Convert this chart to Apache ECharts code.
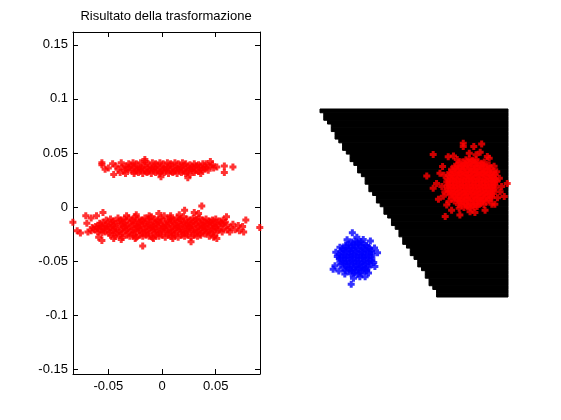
<!DOCTYPE html>
<html><head><meta charset="utf-8">
<script src="https://cdn.jsdelivr.net/npm/echarts@6/dist/echarts.min.js"></script>
<style>html,body{margin:0;padding:0;background:#fff}#c{width:561px;height:420px}</style>
</head><body><div id="c"></div>
<script>
const titleText = 'Risultato della trasformazione';
const xTicks = [-0.05, 0, 0.05];
const yTicks = [-0.15, -0.1, -0.05, 0, 0.05, 0.1, 0.15];

// lower band of transformed points (left panel)
const lowerBand = [
[-0.052,-0.012],[-0.048,-0.011],[-0.045,-0.013],[-0.041,-0.010],[-0.038,-0.012],[-0.035,-0.011],[-0.031,-0.010],[-0.028,-0.012],[-0.025,-0.009],[-0.022,-0.011],[-0.019,-0.012],[-0.016,-0.010],[-0.013,-0.011],[-0.010,-0.009],[-0.007,-0.011],[-0.004,-0.012],[-0.001,-0.010],[0.002,-0.008],[0.005,-0.011],[0.008,-0.010],[0.011,-0.012],[0.014,-0.010],[0.017,-0.011],[0.020,-0.009],[0.023,-0.011],[0.026,-0.012],[0.029,-0.010],[0.032,-0.011],[0.035,-0.010],[0.038,-0.012],[0.041,-0.011],[0.044,-0.013],[0.047,-0.012],[0.050,-0.011],[0.054,-0.013],[0.057,-0.012],
[-0.058,-0.015],[-0.055,-0.014],[-0.051,-0.015],[-0.047,-0.014],[-0.044,-0.015],[-0.040,-0.013],[-0.037,-0.015],[-0.034,-0.014],[-0.030,-0.015],[-0.027,-0.013],[-0.024,-0.015],[-0.021,-0.014],[-0.018,-0.013],[-0.015,-0.015],[-0.012,-0.014],[-0.009,-0.013],[-0.006,-0.015],[-0.003,-0.014],[0.000,-0.013],[0.003,-0.015],[0.006,-0.014],[0.009,-0.013],[0.012,-0.015],[0.015,-0.014],[0.018,-0.013],[0.021,-0.015],[0.024,-0.014],[0.027,-0.015],[0.030,-0.013],[0.033,-0.014],[0.036,-0.015],[0.039,-0.014],[0.042,-0.015],[0.045,-0.014],[0.048,-0.015],[0.051,-0.014],[0.055,-0.015],[0.059,-0.014],
[-0.062,-0.018],[-0.059,-0.017],[-0.056,-0.018],[-0.053,-0.017],[-0.050,-0.018],[-0.046,-0.017],[-0.043,-0.018],[-0.039,-0.016],[-0.036,-0.018],[-0.033,-0.017],[-0.029,-0.018],[-0.026,-0.016],[-0.023,-0.018],[-0.020,-0.017],[-0.017,-0.016],[-0.014,-0.018],[-0.011,-0.017],[-0.008,-0.018],[-0.005,-0.016],[-0.002,-0.017],[0.001,-0.018],[0.004,-0.017],[0.007,-0.016],[0.010,-0.018],[0.013,-0.017],[0.016,-0.018],[0.019,-0.016],[0.022,-0.017],[0.025,-0.018],[0.028,-0.017],[0.031,-0.016],[0.034,-0.018],[0.037,-0.017],[0.040,-0.018],[0.043,-0.016],[0.046,-0.017],[0.049,-0.018],[0.052,-0.017],[0.056,-0.016],[0.060,-0.017],
[-0.063,-0.021],[-0.060,-0.020],[-0.057,-0.021],[-0.054,-0.020],[-0.051,-0.021],[-0.048,-0.019],[-0.045,-0.021],[-0.042,-0.020],[-0.038,-0.021],[-0.035,-0.019],[-0.032,-0.020],[-0.028,-0.021],[-0.025,-0.020],[-0.022,-0.019],[-0.019,-0.021],[-0.016,-0.020],[-0.013,-0.021],[-0.010,-0.019],[-0.007,-0.020],[-0.004,-0.021],[-0.001,-0.020],[0.002,-0.019],[0.005,-0.021],[0.008,-0.020],[0.011,-0.021],[0.014,-0.019],[0.017,-0.020],[0.020,-0.021],[0.023,-0.020],[0.026,-0.019],[0.029,-0.021],[0.032,-0.020],[0.035,-0.021],[0.038,-0.019],[0.041,-0.020],[0.044,-0.021],[0.047,-0.020],[0.050,-0.019],[0.053,-0.021],[0.057,-0.020],[0.061,-0.021],
[-0.060,-0.023],[-0.056,-0.024],[-0.053,-0.023],[-0.049,-0.024],[-0.046,-0.022],[-0.043,-0.024],[-0.040,-0.023],[-0.037,-0.024],[-0.034,-0.022],[-0.031,-0.023],[-0.027,-0.024],[-0.024,-0.023],[-0.021,-0.022],[-0.018,-0.024],[-0.015,-0.023],[-0.012,-0.024],[-0.009,-0.022],[-0.006,-0.023],[-0.003,-0.024],[0.000,-0.023],[0.003,-0.022],[0.006,-0.024],[0.009,-0.023],[0.012,-0.024],[0.015,-0.022],[0.018,-0.023],[0.021,-0.024],[0.024,-0.023],[0.027,-0.022],[0.030,-0.024],[0.033,-0.023],[0.036,-0.024],[0.039,-0.022],[0.042,-0.023],[0.045,-0.024],[0.048,-0.023],[0.052,-0.022],[0.056,-0.023],
[-0.048,-0.026],[-0.044,-0.027],[-0.040,-0.026],[-0.037,-0.028],[-0.033,-0.026],[-0.030,-0.027],[-0.027,-0.026],[-0.024,-0.028],[-0.021,-0.026],[-0.018,-0.027],[-0.015,-0.026],[-0.012,-0.027],[-0.009,-0.028],[-0.006,-0.026],[-0.003,-0.027],[0.000,-0.026],[0.003,-0.028],[0.006,-0.026],[0.009,-0.027],[0.012,-0.026],[0.015,-0.028],[0.018,-0.026],[0.021,-0.027],[0.024,-0.026],[0.027,-0.028],[0.030,-0.026],[0.033,-0.027],[0.036,-0.026],[0.040,-0.025],[0.044,-0.027],[0.049,-0.026],
[-0.083,-0.014],[-0.079,-0.022],[-0.076,-0.024],[-0.071,-0.008],[-0.070,-0.015],[-0.069,-0.023],[-0.066,-0.010],[-0.061,-0.008],[-0.059,-0.028],[-0.056,-0.031],[-0.055,-0.005],[-0.065,-0.019],[-0.066,-0.022],[-0.045,-0.029],[-0.038,-0.030],[-0.025,-0.029],[-0.018,-0.036],[-0.033,-0.008],[-0.024,-0.007],[-0.012,-0.008],[-0.003,-0.006],[0.008,-0.008],[0.021,-0.003],[0.037,0.001],[0.027,-0.032],[0.030,-0.005],[0.034,-0.006],[0.016,-0.007],[0.010,-0.029],[-0.008,-0.029],[0.051,-0.029],[0.048,-0.028],[0.060,-0.009],[0.063,-0.023],[0.066,-0.016],[0.071,-0.017],[0.075,-0.018],[0.078,-0.012],[0.076,-0.023],[0.091,-0.019],[0.064,-0.019],[0.068,-0.021],[0.072,-0.022]
];

// upper band of transformed points (left panel)
const upperBand = [
[-0.031,0.040],[-0.027,0.041],[-0.024,0.040],[-0.020,0.041],[-0.016,0.042],[-0.013,0.040],[-0.009,0.041],[-0.006,0.040],[-0.002,0.041],[0.001,0.040],[0.005,0.041],[0.008,0.040],[0.012,0.041],[0.015,0.040],[0.019,0.041],[0.022,0.040],[0.026,0.039],[0.030,0.040],[0.034,0.039],[0.038,0.040],
[-0.037,0.037],[-0.034,0.038],[-0.031,0.037],[-0.028,0.038],[-0.025,0.037],[-0.022,0.036],[-0.019,0.037],[-0.016,0.038],[-0.013,0.037],[-0.010,0.036],[-0.007,0.037],[-0.004,0.038],[-0.001,0.037],[0.002,0.036],[0.005,0.037],[0.008,0.038],[0.011,0.037],[0.014,0.036],[0.017,0.037],[0.020,0.038],[0.023,0.037],[0.026,0.036],[0.029,0.037],[0.032,0.038],[0.035,0.037],[0.038,0.036],[0.041,0.037],[0.044,0.038],
[-0.035,0.034],[-0.032,0.035],[-0.029,0.034],[-0.026,0.033],[-0.023,0.034],[-0.020,0.035],[-0.017,0.034],[-0.014,0.033],[-0.011,0.034],[-0.008,0.035],[-0.005,0.034],[-0.002,0.033],[0.001,0.034],[0.004,0.035],[0.007,0.034],[0.010,0.033],[0.013,0.034],[0.016,0.035],[0.019,0.034],[0.022,0.033],[0.025,0.034],[0.028,0.035],[0.031,0.034],[0.034,0.033],[0.037,0.034],[0.040,0.035],[0.043,0.034],
[-0.026,0.031],[-0.022,0.032],[-0.018,0.031],[-0.014,0.032],[-0.010,0.031],[-0.006,0.032],[-0.002,0.031],[0.002,0.032],[0.006,0.031],[0.010,0.032],[0.014,0.031],[0.018,0.032],[0.022,0.031],[0.026,0.030],[0.030,0.032],
[-0.056,0.041],[-0.056,0.039],[-0.053,0.035],[-0.050,0.036],[-0.046,0.040],[-0.045,0.030],[-0.043,0.038],[-0.038,0.041],[-0.041,0.035],[-0.016,0.044],[-0.001,0.028],[0.024,0.027],[0.045,0.042],[0.048,0.036],[0.058,0.038],[0.058,0.032],[0.066,0.037],[0.047,0.039],[0.051,0.037],[-0.039,0.032],[-0.034,0.031],[0.036,0.031],[0.041,0.040]
];

// right panel, image cell coordinates (0..50, rows counted downward)
const redCluster = [
[38.8,13.5],[39.7,13.3],[40.6,13.6],[41.5,13.4],
[36.9,14.3],[37.8,14.1],[38.6,14.4],[39.5,14.2],[40.3,14.0],[41.2,14.3],[42.0,14.2],[42.9,14.4],[43.7,14.1],
[35.8,15.2],[36.6,15.0],[37.5,15.3],[38.3,15.1],[39.2,14.9],[40.0,15.2],[40.9,15.0],[41.7,15.3],[42.6,15.1],[43.4,14.9],[44.3,15.2],[45.0,15.0],
[35.0,16.0],[35.9,15.8],[36.7,16.1],[37.6,15.9],[38.4,15.7],[39.3,16.0],[40.1,15.9],[41.0,16.1],[41.8,15.8],[42.7,16.0],[43.5,15.9],[44.4,16.1],[45.3,15.8],
[34.5,16.9],[35.3,16.7],[36.2,16.8],[37.0,17.0],[37.9,16.7],[38.7,16.9],[39.6,16.8],[40.4,16.6],[41.3,16.9],[42.1,16.8],[43.0,17.0],[43.8,16.7],[44.7,16.9],[45.5,16.8],[46.2,16.6],
[34.1,17.7],[35.0,17.5],[35.8,17.8],[36.7,17.6],[37.5,17.4],[38.4,17.7],[39.2,17.6],[40.1,17.8],[40.9,17.5],[41.8,17.7],[42.6,17.6],[43.5,17.4],[44.3,17.7],[45.2,17.6],[46.0,17.8],[46.6,17.5],
[33.8,18.6],[34.7,18.4],[35.5,18.5],[36.4,18.7],[37.2,18.4],[38.1,18.6],[38.9,18.5],[39.8,18.3],[40.6,18.6],[41.5,18.5],[42.3,18.7],[43.2,18.4],[44.0,18.6],[44.9,18.5],[45.7,18.3],[46.6,18.6],
[33.7,19.4],[34.5,19.2],[35.4,19.3],[36.2,19.5],[37.1,19.2],[37.9,19.4],[38.8,19.3],[39.6,19.1],[40.5,19.4],[41.3,19.3],[42.2,19.5],[43.0,19.2],[43.9,19.4],[44.7,19.3],[45.6,19.1],[46.4,19.4],[47.0,19.2],
[33.8,20.3],[34.6,20.1],[35.5,20.2],[36.3,20.4],[37.2,20.1],[38.0,20.3],[38.9,20.2],[39.7,20.0],[40.6,20.3],[41.4,20.2],[42.3,20.4],[43.1,20.1],[44.0,20.3],[44.8,20.2],[45.7,20.0],[46.5,20.3],
[33.9,21.1],[34.8,20.9],[35.6,21.0],[36.5,21.2],[37.3,20.9],[38.2,21.1],[39.0,21.0],[39.9,20.8],[40.7,21.1],[41.6,21.0],[42.4,21.2],[43.3,20.9],[44.1,21.1],[45.0,21.0],[45.8,20.8],[46.6,21.1],
[34.1,22.0],[35.0,21.8],[35.8,21.9],[36.7,22.1],[37.5,21.8],[38.4,22.0],[39.2,21.9],[40.1,21.7],[40.9,22.0],[41.8,21.9],[42.6,22.1],[43.5,21.8],[44.3,22.0],[45.2,21.9],[46.1,21.7],
[34.5,22.8],[35.3,22.6],[36.2,22.7],[37.0,22.9],[37.9,22.6],[38.7,22.8],[39.6,22.7],[40.4,22.5],[41.3,22.8],[42.1,22.7],[43.0,22.9],[43.8,22.6],[44.7,22.8],[45.6,22.7],[46.1,22.5],
[35.0,23.7],[35.8,23.5],[36.7,23.6],[37.5,23.8],[38.4,23.5],[39.2,23.7],[40.1,23.6],[40.9,23.4],[41.8,23.7],[42.6,23.6],[43.5,23.8],[44.3,23.5],[45.2,23.7],[45.7,23.5],
[35.7,24.5],[36.5,24.3],[37.4,24.4],[38.2,24.6],[39.1,24.3],[39.9,24.5],[40.8,24.4],[41.6,24.2],[42.5,24.5],[43.3,24.4],[44.2,24.6],[45.0,24.3],
[36.8,25.4],[37.6,25.2],[38.5,25.3],[39.3,25.5],[40.2,25.2],[41.0,25.4],[41.9,25.3],[42.7,25.1],[43.6,25.4],
[38.3,26.2],[39.2,26.0],[40.0,26.3],[40.9,26.1],[41.8,25.9],
[38.1,9.1],[38.1,10.0],[40.9,10.0],[43.0,9.3],[30.1,12.1],[28.4,17.8],[30.1,21.1],[31.5,24.0],[33.3,28.6],[37.2,28.2],[49.8,19.8],[49.0,23.3],[45.0,13.1],[35.5,12.5],[34.1,12.7],[45.7,25.3],[46.5,25.3],[43.9,26.9],[39.9,27.3],[35.0,26.9],[31.9,17.1],[31.0,19.8],[33.2,22.0],[47.7,18.4],[47.0,16.7],[46.3,15.2],[41.5,12.2],[39.7,11.8],[33.7,25.5],[37.0,26.4],[47.9,22.0],[32.6,15.3],[33.0,17.6],[32.4,20.6],[36.5,13.4],[44.5,12.6],[42.6,11.5],[47.2,23.6],[41.2,27.5],[34.3,24.6],[48.3,20.6],[32.8,23.2]
];

const blueCluster = [
[8.4,35.4],[9.3,35.2],[10.2,35.4],[10.9,35.3],
[6.8,36.2],[7.6,36.0],[8.5,36.2],[9.3,36.1],[10.2,35.9],[11.0,36.2],[11.9,36.1],[12.4,36.3],
[6.0,37.1],[6.8,36.9],[7.7,37.1],[8.5,37.0],[9.4,36.8],[10.2,37.1],[11.1,37.0],[11.9,37.2],[12.8,36.9],[13.2,37.1],
[5.5,37.9],[6.3,37.7],[7.2,37.9],[8.0,37.8],[8.9,37.6],[9.7,37.9],[10.6,37.8],[11.4,38.0],[12.3,37.7],[13.1,37.9],[13.7,37.8],
[5.3,38.8],[6.2,38.6],[7.0,38.8],[7.9,38.7],[8.7,38.5],[9.6,38.8],[10.4,38.7],[11.3,38.9],[12.1,38.6],[13.0,38.8],[13.9,38.7],
[5.2,39.6],[6.1,39.4],[6.9,39.6],[7.8,39.5],[8.6,39.3],[9.5,39.6],[10.3,39.5],[11.2,39.7],[12.0,39.4],[12.9,39.6],[13.8,39.5],
[5.3,40.5],[6.2,40.3],[7.0,40.5],[7.9,40.4],[8.7,40.2],[9.6,40.5],[10.4,40.4],[11.3,40.6],[12.1,40.3],[13.0,40.5],[13.8,40.4],
[5.5,41.3],[6.4,41.1],[7.2,41.3],[8.1,41.2],[8.9,41.0],[9.8,41.3],[10.6,41.2],[11.5,41.4],[12.3,41.1],[13.2,41.3],
[6.1,42.2],[7.0,42.0],[7.8,42.2],[8.7,42.1],[9.5,41.9],[10.4,42.2],[11.2,42.1],[12.1,42.3],[13.0,42.0],
[6.8,43.0],[7.7,42.8],[8.5,43.0],[9.4,42.9],[10.2,42.7],[11.1,43.0],[11.9,42.9],[12.4,43.1],
[8.3,43.8],[9.2,43.6],[10.1,43.8],[10.9,43.7],
[8.6,32.9],[9.8,34.1],[11.5,34.7],[13.4,35.1],[15.3,38.2],[3.5,42.6],[4.0,41.7],[4.6,39.2],[5.3,36.8],[8.3,46.6],[8.9,45.0],[12.0,44.6],[12.9,43.6],[14.3,40.8],[6.6,43.9],[14.5,37.0],[5.0,43.1],[10.6,44.6],[7.2,34.8],[14.6,41.9],[4.2,38.1]
];

// first black column of each image row (50 x 50 image, black up to column 50)
const regionStart = [0,1,1,2,3,3,4,4,5,6, 6,7,8,8,9,10,10,11,12,12, 13,13,14,15,15,16,17,17,18,19, 19,20,21,21,22,22,23,24,24,25, 26,26,27,28,28,29,29,30,31,31];
const imageSize = 50;

const font = '"Liberation Sans", Arial, Helvetica, sans-serif';
const plus = 'path://M2,0H5V2H7V5H5V7H2V5H0V2H2Z';
const black = '#000';
const markSize = 7;

function boxX(position, showLabel) {
  return {
    gridIndex: 0, type: 'value', position: position,
    min: -0.0829, max: 0.0912,
    axisLine: { show: true, onZero: false, lineStyle: { color: black, width: 1 } },
    axisTick: { show: true, inside: true, length: 5, customValues: xTicks, lineStyle: { color: black } },
    axisLabel: { show: showLabel, customValues: xTicks, margin: 6, color: black, fontFamily: font, fontSize: 13 },
    splitLine: { show: false }
  };
}
function boxY(position, showLabel) {
  return {
    gridIndex: 0, type: 'value', position: position,
    min: -0.1543, max: 0.1618,
    axisLine: { show: true, onZero: false, lineStyle: { color: black, width: 1 } },
    axisTick: { show: true, inside: true, length: 5, customValues: yTicks, lineStyle: { color: black } },
    axisLabel: { show: showLabel, customValues: yTicks, margin: 5, color: black, fontFamily: font, fontSize: 13 },
    splitLine: { show: false }
  };
}

const chart = echarts.init(document.getElementById('c'), null, { renderer: 'canvas' });
chart.setOption({
  animation: false,
  backgroundColor: '#fff',
  title: {
    text: titleText, left: 166, top: 10, textAlign: 'center', padding: 0,
    textStyle: { fontFamily: font, fontSize: 13, fontWeight: 'normal', color: black }
  },
  grid: [
    { left: 73, top: 32, width: 187, height: 342 },
    { left: 320, top: 109, width: 188, height: 188 }
  ],
  xAxis: [
    boxX('bottom', true),
    boxX('top', false),
    { gridIndex: 1, type: 'value', min: 0, max: imageSize, show: false }
  ],
  yAxis: [
    boxY('left', true),
    boxY('right', false),
    { gridIndex: 1, type: 'value', min: 0, max: imageSize, inverse: true, show: false }
  ],
  series: [
    {
      type: 'scatter', xAxisIndex: 0, yAxisIndex: 0, data: lowerBand,
      symbol: plus, symbolSize: markSize, itemStyle: { color: '#ff0000' }, clip: false, silent: true
    },
    {
      type: 'scatter', xAxisIndex: 0, yAxisIndex: 0, data: upperBand,
      symbol: plus, symbolSize: markSize, itemStyle: { color: '#ff0000' }, clip: false, silent: true
    },
    {
      type: 'custom', xAxisIndex: 2, yAxisIndex: 2,
      data: regionStart.map((c, r) => [c, r]),
      encode: { x: 0, y: 1 },
      silent: true,
      renderItem: function (params, api) {
        const c = api.value(0), r = api.value(1);
        const p0 = api.coord([c, r]);
        const p1 = api.coord([imageSize, r + 1]);
        return {
          type: 'rect',
          shape: { x: p0[0], y: p0[1], width: p1[0] - p0[0], height: p1[1] - p0[1] },
          style: { fill: black, stroke: black, lineWidth: 1 }
        };
      }
    },
    {
      type: 'scatter', xAxisIndex: 2, yAxisIndex: 2, data: redCluster,
      symbol: plus, symbolSize: markSize, itemStyle: { color: '#ff0000' }, clip: false, silent: true
    },
    {
      type: 'scatter', xAxisIndex: 2, yAxisIndex: 2, data: blueCluster,
      symbol: plus, symbolSize: markSize, itemStyle: { color: '#0000ff' }, clip: false, silent: true
    }
  ]
});
</script>
</body></html>
